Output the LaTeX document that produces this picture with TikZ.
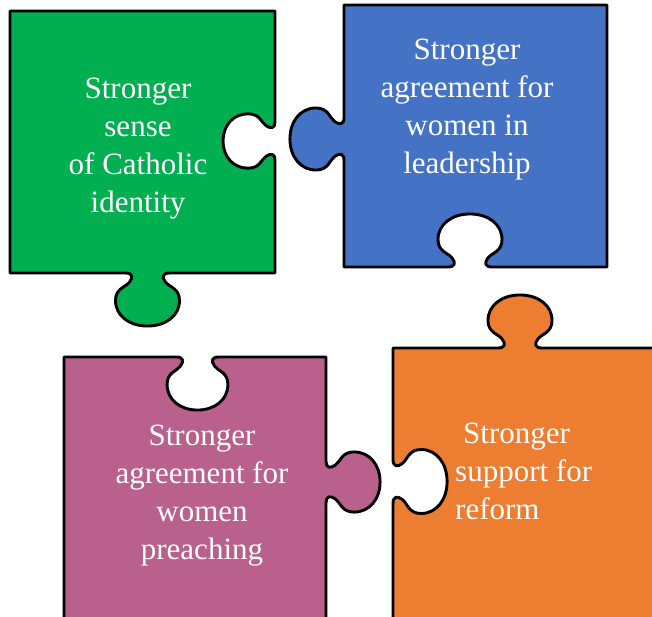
\documentclass[tikz,border=0pt]{standalone}
\usepackage{fontspec}
\setmainfont{Liberation Serif}
\definecolor{pzgreen}{HTML}{00B050}
\definecolor{pzblue}{HTML}{4472C4}
\definecolor{pzorange}{HTML}{ED7D31}
\definecolor{pzpink}{HTML}{B9608C}
% point in local frame: #1,#2 centre; #3,#4 travel vector; #5,#6 protrusion vector; #7 u; #8 v
\newcommand\PP[8]{({#1+(#7)*(#3)+(#8)*(#5)},{#2+(#7)*(#4)+(#8)*(#6)})}
% knob (tab or blank): #7 width scale, #8 depth scale
\newcommand\feat[8]{%
 -- \PP{#1}{#2}{#3}{#4}{#5}{#6}{-22*#7}{0}
 .. controls \PP{#1}{#2}{#3}{#4}{#5}{#6}{-15*#7}{0}
 and \PP{#1}{#2}{#3}{#4}{#5}{#6}{-14*#7}{4*#8}
 .. \PP{#1}{#2}{#3}{#4}{#5}{#6}{-18*#7}{9*#8}
 .. controls \PP{#1}{#2}{#3}{#4}{#5}{#6}{-22*#7}{14*#8}
 and \PP{#1}{#2}{#3}{#4}{#5}{#6}{-32*#7}{15*#8}
 .. \PP{#1}{#2}{#3}{#4}{#5}{#6}{-32*#7}{27*#8}
 .. controls \PP{#1}{#2}{#3}{#4}{#5}{#6}{-32*#7}{42*#8}
 and \PP{#1}{#2}{#3}{#4}{#5}{#6}{-18*#7}{52*#8}
 .. \PP{#1}{#2}{#3}{#4}{#5}{#6}{0}{52*#8}
 .. controls \PP{#1}{#2}{#3}{#4}{#5}{#6}{18*#7}{52*#8}
 and \PP{#1}{#2}{#3}{#4}{#5}{#6}{32*#7}{42*#8}
 .. \PP{#1}{#2}{#3}{#4}{#5}{#6}{32*#7}{27*#8}
 .. controls \PP{#1}{#2}{#3}{#4}{#5}{#6}{32*#7}{15*#8}
 and \PP{#1}{#2}{#3}{#4}{#5}{#6}{22*#7}{14*#8}
 .. \PP{#1}{#2}{#3}{#4}{#5}{#6}{18*#7}{9*#8}
 .. controls \PP{#1}{#2}{#3}{#4}{#5}{#6}{14*#7}{4*#8}
 and \PP{#1}{#2}{#3}{#4}{#5}{#6}{15*#7}{0}
 .. \PP{#1}{#2}{#3}{#4}{#5}{#6}{22*#7}{0}
}
\begin{document}
\begin{tikzpicture}[x=1pt,y=-1pt,
  piece/.style={draw=black,line width=2.9pt,line join=round},
  label/.style={text=white,inner sep=0pt,font=\fontsize{31}{38}\selectfont}]
\useasboundingbox (0,0) rectangle (652,616);
\clip (0,0) rectangle (652,616);
% green
\draw[piece,fill=pzgreen] (10,11) -- (275,11)
  \feat{275}{141}{0}{1}{-1}{0}{0.85}{1}
  -- (275,273)
  \feat{147.5}{273}{-1}{0}{0}{1}{1}{1.02}
  -- (10,273) -- cycle;
% blue
\draw[piece,fill=pzblue] (344,267)
  \feat{344}{139}{0}{-1}{-1}{0}{0.97}{1.04}
  -- (344,5) -- (607,5) -- (607,267)
  \feat{470}{267}{-1}{0}{0}{-1}{1}{1.02}
  -- cycle;
% orange
\draw[piece,fill=pzorange] (393,640)
  \feat{393}{481.5}{0}{-1}{1}{0}{1}{1.04}
  -- (393,348)
  \feat{520}{348}{1}{0}{0}{-1}{1}{1.02}
  -- (670,348) -- (670,640) -- cycle;
% pink
\draw[piece,fill=pzpink] (64,640) -- (64,357)
  \feat{197.5}{357}{1}{0}{0}{1}{0.95}{1.02}
  -- (326,357)
  \feat{326}{482}{0}{1}{1}{0}{0.94}{1.04}
  -- (326,640) -- cycle;
% texts
\node[label,align=center] (tgreen) at (138,149) {Stronger\\sense\\of Catholic\\identity};
\node[label,align=center] (tblue) at (467,110) {Stronger\\agreement for\\women in\\leadership};
\node[label,align=center] (tpink) at (202,496) {Stronger\\agreement for\\women\\preaching};
\node[label,align=left,anchor=west] (torange) at (455,471) {\hspace*{8pt}Stronger\\support for\\reform};
\end{tikzpicture}
\end{document}
